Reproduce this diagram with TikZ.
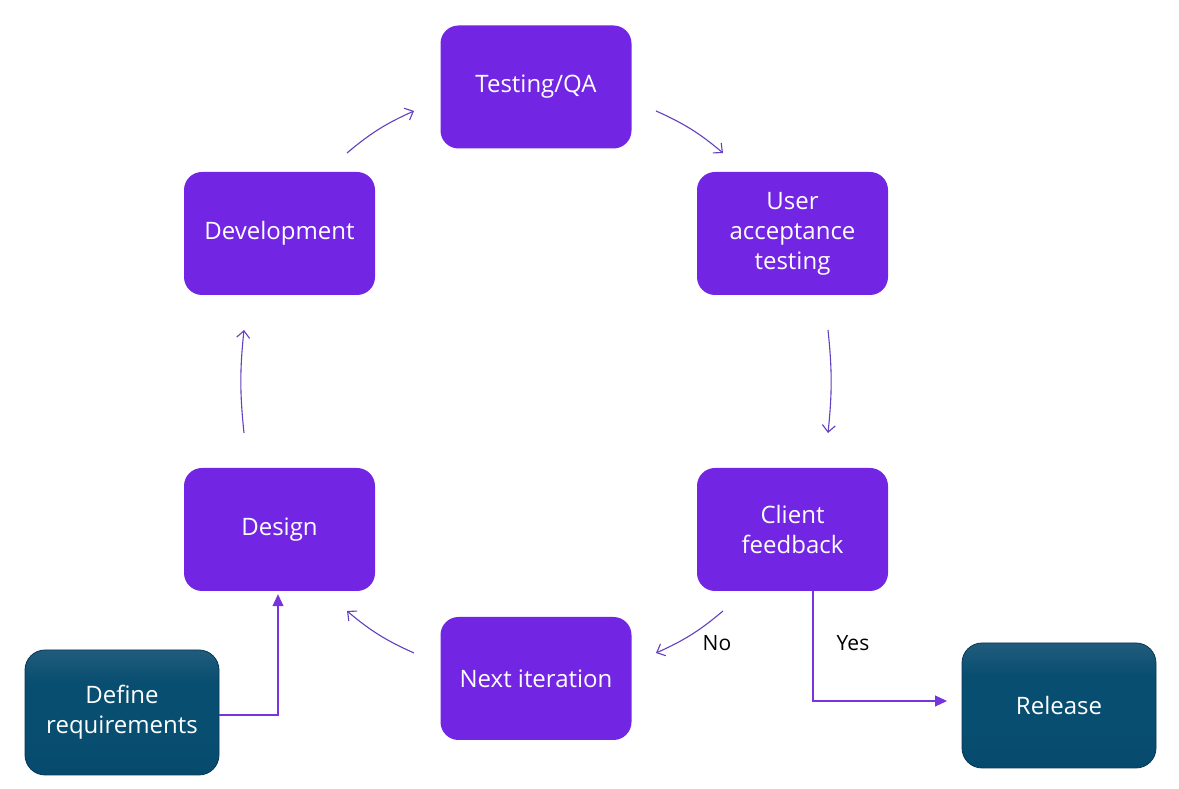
\documentclass[tikz,border=0pt]{standalone}
\usepackage{fontspec}
\setmainfont{Open Sans}
\usetikzlibrary{arrows.meta}
\definecolor{boxpurple}{RGB}{114,38,228}
\definecolor{linepurple}{RGB}{98,64,190}
\definecolor{arrpurple}{RGB}{118,52,220}
\definecolor{tealtop}{RGB}{66,110,140}
\definecolor{tealmid}{RGB}{8,78,112}
\definecolor{tealbot}{RGB}{3,70,104}
\definecolor{tealedge}{RGB}{10,55,85}
\pgfdeclareverticalshading{tealshade}{100bp}{color(0bp)=(tealbot); color(40bp)=(tealmid); color(62bp)=(tealmid); color(92bp)=(tealtop); color(100bp)=(tealtop)}
\tikzset{
  stagebox/.style={fill=boxpurple, draw=none, rounded corners=18pt,
    minimum width=191pt, minimum height=123pt, text=white, align=center,
    font=\fontsize{24}{30}\selectfont},
  endbox/.style={shading=tealshade,
    draw=tealedge, line width=0.8pt, rounded corners=20pt,
    minimum width=194pt, minimum height=125pt, text=white, align=center,
    font=\fontsize{24}{30}\selectfont},
  cycarrow/.style={draw=linepurple, line width=1.1pt,
    -{Straight Barb[length=7pt,width=13pt]}},
  flowarrow/.style={draw=arrpurple, line width=1.1pt,
    -{Triangle[length=12pt,width=11pt]}},
  lbl/.style={font=\fontsize{21}{24}\selectfont, text=black}
}
\begin{document}
\begin{tikzpicture}[x=1pt,y=1pt]
\useasboundingbox[fill=white] (0,0) rectangle (1179,789);
% stage nodes
\node[stagebox] (test)   at (536,702)     {Testing/QA};
\node[stagebox] (uat)    at (792.5,555.5) {User\\acceptance\\testing};
\node[stagebox] (dev)    at (279.5,555.5) {Development};
\node[stagebox] (design) at (279.5,259.5) {Design};
\node[stagebox] (client) at (792.5,259.5) {Client\\feedback};
\node[stagebox] (next)   at (536,110.5)   {Next iteration};
\node[endbox]   (def)    at (122,76.5)    {Define\\requirements};
\node[endbox]   (rel)    at (1059,83.5)   {Release};
% free ends of the cycle arrows
\coordinate (a1s) at (347,636); \coordinate (a1e) at (414,678);
\coordinate (a2s) at (656,678); \coordinate (a2e) at (723,636);
\coordinate (a3s) at (828,459); \coordinate (a3e) at (828,356);
\coordinate (a4s) at (723,178); \coordinate (a4e) at (656,136);
\coordinate (a5s) at (414,136); \coordinate (a5e) at (347,178);
\coordinate (a6s) at (244,356); \coordinate (a6e) at (244,459);
\draw[cycarrow] (a1s) to[bend left=8] (a1e);
\draw[cycarrow] (a2s) to[bend left=8] (a2e);
\draw[cycarrow] (a3s) to[bend left=6] (a3e);
\draw[cycarrow] (a4s) to[bend left=8] (a4e);
\draw[cycarrow] (a5s) to[bend left=8] (a5e);
\draw[cycarrow] (a6s) to[bend left=6] (a6e);
% labels
\node[lbl] (no)  at (717,146) {No};
\node[lbl] (yes) at (853,146) {Yes};
% yes branch
\coordinate (yesturn) at (813,88);
\coordinate (relin) at (947,88);
\draw[flowarrow] (client.south -| yesturn) -- (yesturn) -- (relin);
% define requirements branch
\coordinate (defturn) at (278,74);
\draw[flowarrow] (def.east |- defturn) -- (defturn) -- ([yshift=-3pt]design.south -| defturn);
\end{tikzpicture}
\end{document}
